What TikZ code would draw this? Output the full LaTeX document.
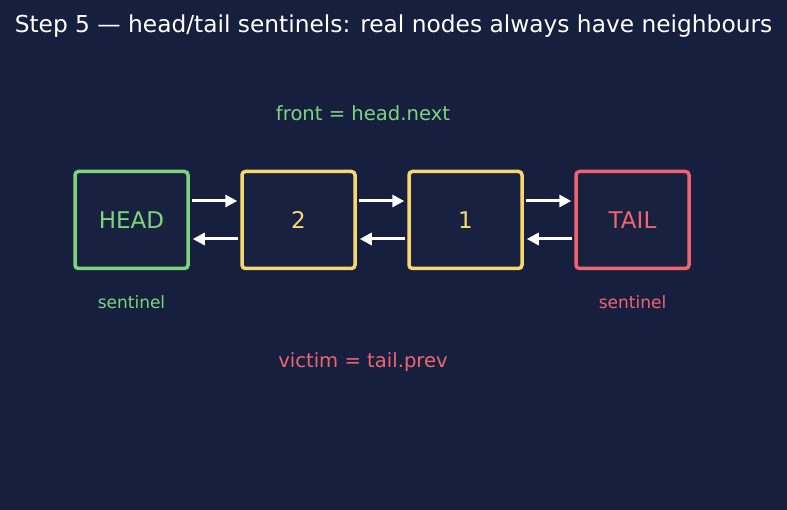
\documentclass[tikz,border=0pt]{standalone}
\usepackage{fontspec}
\setmainfont{DejaVu Sans}
\usepackage{tikz}
\usetikzlibrary{positioning, arrows.meta, calc}
\definecolor{bg_navy}{RGB}{22, 32, 62}
\definecolor{box_fill}{RGB}{24, 34, 64}
\definecolor{snt_green}{RGB}{125, 212, 125}
\definecolor{mid_yellow}{RGB}{248, 216, 110}
\definecolor{snt_red}{RGB}{240, 100, 112}

\begin{document}
\begin{tikzpicture}[x=1pt, y=1pt, >={Triangle[length=12pt, width=12pt]},
      lnode/.style={draw=#1, text=#1, rounded corners=3.5pt, line width=3.5pt, fill=box_fill,
                    minimum width=113pt, minimum height=97pt, inner sep=0pt,
                    font=\fontsize{23}{27}\selectfont},
      link/.style={->, white, line width=3pt, shorten >=3pt, shorten <=2pt},
      lbl/.style={font=\fontsize{19.6}{23}\selectfont},
      sml/.style={font=\fontsize{17}{20}\selectfont}]
    \fill[bg_navy] (0,0) rectangle (787,-510);
    \useasboundingbox (0,0) rectangle (787,-510);
    \node[white, font=\fontsize{23.3}{28}\selectfont] (title) at (393.5,-26) {Step 5 — head/tail sentinels: real nodes always have neighbours};
    \node[lnode=snt_green]  (head) at (131.5,-220) {HEAD};
    \node[lnode=mid_yellow] (two)  at (298.5,-220) {2};
    \node[lnode=mid_yellow] (one)  at (465.5,-220) {1};
    \node[lnode=snt_red]    (tail) at (632.5,-220) {TAIL};
    \node[lbl, snt_green] (front)  at (363,-113) {front = head.next};
    \node[lbl, snt_red]   (victim) at (363,-362) {victim = tail.prev};
    \node[sml, snt_green] (hsnt) at (131.5,-302) {sentinel};
    \node[sml, snt_red]   (tsnt) at (632.5,-302) {sentinel};
    \foreach \a/\b in {head/two, two/one, one/tail} {
      \draw[link] ($(\a.east)+(0,19)$) -- ($(\b.west)+(0,19)$);
      \draw[link] ($(\b.west)+(0,-19)$) -- ($(\a.east)+(0,-19)$);
    }
  \end{tikzpicture}
\end{document}
